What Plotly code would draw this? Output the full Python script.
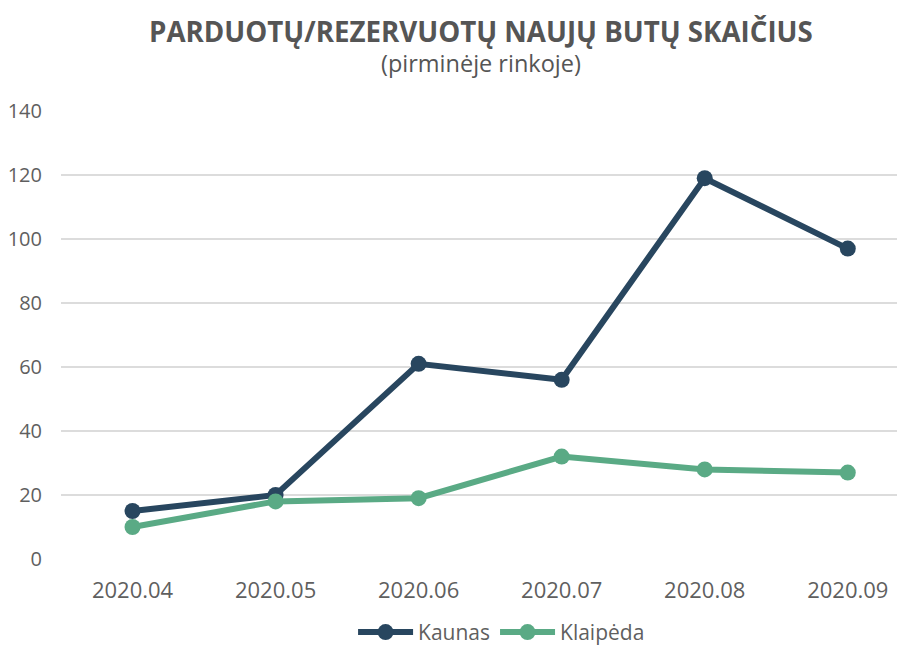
import plotly.graph_objects as go

months = ["2020.04", "2020.05", "2020.06", "2020.07", "2020.08", "2020.09"]
kaunas = [15, 20, 61, 56, 119, 97]
klaipeda = [10, 18, 19, 32, 28, 27]
y_ticks = [0, 20, 40, 60, 80, 100, 120, 140]

navy = "#28465f"
green = "#5aaa85"
txt = "#5f5f5f"

fig = go.Figure()
fig.add_trace(go.Scatter(x=months, y=kaunas, name="Kaunas", mode="lines+markers",
                         line=dict(color=navy, width=6), marker=dict(size=16, color=navy)))
fig.add_trace(go.Scatter(x=months, y=klaipeda, name="Klaipėda", mode="lines+markers",
                         line=dict(color=green, width=6), marker=dict(size=16, color=green)))

fig.add_annotation(text="<b>PARDUOTŲ/REZERVUOTŲ NAUJŲ BUTŲ SKAIČIUS</b>",
                   xref="paper", yref="paper", x=0.4976, y=1.1786,
                   yanchor="middle", xanchor="center", showarrow=False,
                   font=dict(size=27.7, color="#555555", family="Open Sans"))
fig.add_annotation(text="(pirminėje rinkoje)",
                   xref="paper", yref="paper", x=0.4976, y=1.107,
                   yanchor="middle", xanchor="center", showarrow=False,
                   font=dict(size=23.5, color="#555555", family="Open Sans"))

fig.update_layout(
    width=905, height=648,
    paper_bgcolor="white", plot_bgcolor="white",
    margin=dict(l=53, r=8, t=103, b=97, autoexpand=False),
    font=dict(family="Open Sans", color=txt, size=20),
    showlegend=True,
    legend=dict(orientation="h", x=0.522, xanchor="center", y=-0.164, yanchor="middle",
                font=dict(size=21, color=txt), itemwidth=55, traceorder="normal"),
    xaxis=dict(range=[-0.5, 5.4], showgrid=False, showline=False, zeroline=False,
               ticks="", ticklabelstandoff=16, tickfont=dict(size=22, color=txt),
               automargin=False),
    yaxis=dict(range=[0, 140], tickvals=y_ticks, showgrid=True, gridcolor="#dcdcdc",
               gridwidth=1.5, zeroline=False, ticks="", ticklabelstandoff=18,
               tickfont=dict(size=20, color=txt), automargin=False),
)

fig.write_html("out.html")
